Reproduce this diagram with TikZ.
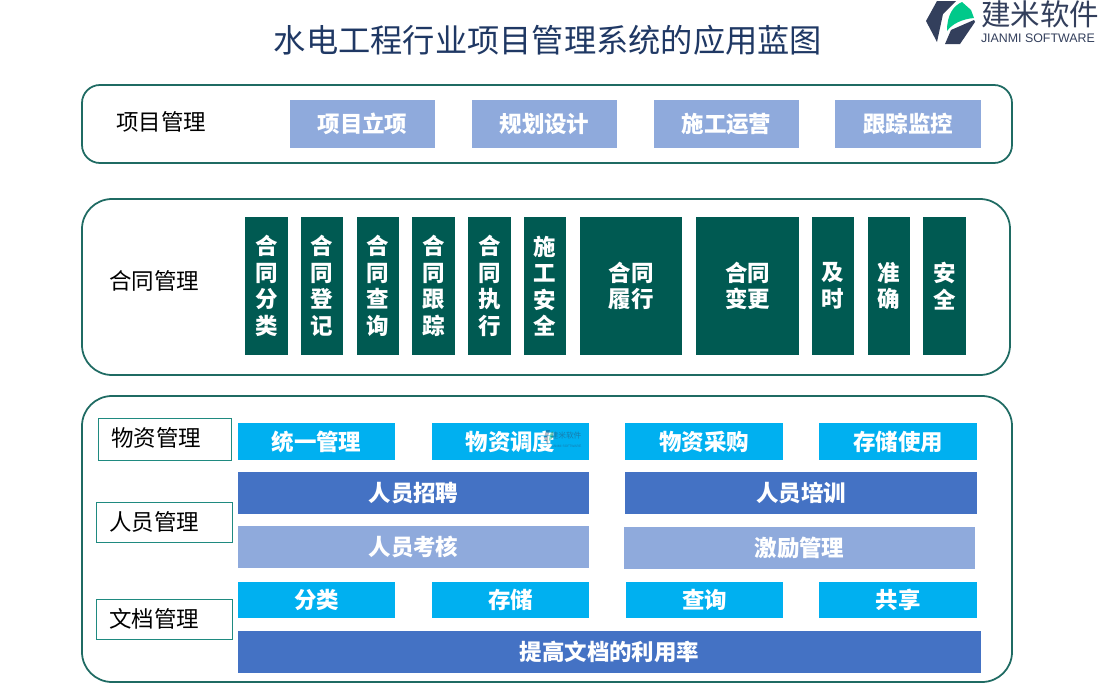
\documentclass[tikz,border=0pt]{standalone}
\usepackage{fontspec}
\setmainfont{Noto Sans CJK SC}
\newfontfamily\latinf{Liberation Sans}
\definecolor{panel}{HTML}{1F6B63}
\definecolor{outl}{HTML}{1F8A80}
\definecolor{dark}{HTML}{005A52}
\definecolor{lav}{HTML}{8FAADC}
\definecolor{sky}{HTML}{00B0F0}
\definecolor{blu}{HTML}{4472C4}
\definecolor{ttl}{HTML}{1F3864}
\definecolor{logod}{HTML}{333F5C}
\definecolor{logog}{HTML}{00C98A}
\newcommand\bx[7]{%
  \pgfmathsetmacro\bxw{(#4-#2)*0.02}\pgfmathsetmacro\bxh{(#5-#3)*0.02}%
  \node[#6,minimum width=\bxw cm,minimum height=\bxh cm] (#1) at ({(#2+#4)/2},{(#3+#5)/2}) {#7};}
\newcommand\pn[6]{%
  \pgfmathsetmacro\bxw{(#4-#2)*0.02}\pgfmathsetmacro\bxh{(#5-#3)*0.02}\pgfmathsetmacro\bxr{#6*0.02}%
  \node[panelbox,rounded corners=\bxr cm,minimum width=\bxw cm,minimum height=\bxh cm] (#1) at ({(#2+#4)/2},{(#3+#5)/2}) {};}
\tikzset{
  every node/.style={inner sep=0pt,outer sep=0pt},
  panelbox/.style={draw=panel,line width=1pt,fill=white},
  lbl/.style={font=\fontsize{12.8}{14}\selectfont,text=black},
  lblbox/.style={draw=outl,line width=0.55pt,fill=white},
  wt/.style={text=white,font=\bfseries\fontsize{12.8}{14}\selectfont},
  lavbox/.style={wt,fill=lav},
  skybox/.style={wt,fill=sky},
  blubox/.style={wt,fill=blu},
  darkbox/.style={wt,fill=dark,align=center,font=\bfseries\fontsize{12.8}{15.1}\selectfont},
}
\begin{document}
\begin{tikzpicture}[x=0.02cm,y=-0.02cm]
\useasboundingbox (0,0) rectangle (1100,700);
\fill[white] (0,0) rectangle (1100,700);
\node[text=ttl,font=\fontsize{18.35}{20}\selectfont] (title) at (548,40) {水电工程行业项目管理系统的应用蓝图};
% logo
\fill[logod] (937,1) -- (956,1) -- (943,14) -- (937,42) -- (926,21) -- cycle;
\fill[logod] (945,44) -- (951,30) -- (974,20) -- (975,22) -- (960,44) -- cycle;
\fill[logog] (947,31) .. controls (947,15) and (953,6) .. (962,2) -- (971,10) -- (974,18) .. controls (962,19) and (952,24) .. (947,31) -- cycle;
\node[text=logod,font=\fontsize{16.8}{18}\selectfont,anchor=west] (logot) at (981,14) {建米软件};
\node[text=logod,font=\latinf\fontsize{7.05}{8}\selectfont,anchor=west] (logos) at (981,38) {JIANMI SOFTWARE};
% panels
\pn{p1}{82}{85}{1012}{163}{18}
\pn{p2}{82}{199}{1010}{375}{30}
\pn{p3}{82}{396}{1012}{682}{30}
% project
\node[lbl] (l1) at (161,122) {项目管理};
\bx{a1}{290}{100}{435}{148}{lavbox}{项目立项}
\bx{a2}{472}{100}{617}{148}{lavbox}{规划设计}
\bx{a3}{654}{100}{799}{148}{lavbox}{施工运营}
\bx{a4}{835}{100}{981}{148}{lavbox}{跟踪监控}
% contract
\node[lbl] (l2) at (154,281) {合同管理};
\bx{b1}{245}{217}{288}{355}{darkbox}{合\\同\\分\\类}
\bx{b2}{301}{217}{343}{355}{darkbox}{合\\同\\登\\记}
\bx{b3}{357}{217}{399}{355}{darkbox}{合\\同\\查\\询}
\bx{b4}{412}{217}{455}{355}{darkbox}{合\\同\\跟\\踪}
\bx{b5}{468}{217}{511}{355}{darkbox}{合\\同\\执\\行}
\bx{b6}{524}{217}{566}{355}{darkbox}{施\\工\\安\\全}
\bx{b7}{580}{217}{682}{355}{darkbox}{合同\\履行}
\bx{b8}{696}{217}{799}{355}{darkbox}{合同\\变更}
\bx{b9}{812}{217}{854}{355}{darkbox}{及\\时}
\bx{b10}{868}{217}{910}{355}{darkbox}{准\\确}
\bx{b11}{923}{217}{966}{355}{darkbox}{安\\全}
% bottom labels
\bx{l3}{98}{418}{231}{460}{lblbox}{}
\bx{l4}{96}{502}{232}{542}{lblbox}{}
\bx{l5}{96}{599}{232}{639}{lblbox}{}
\node[lbl] (l3t) at (156,438) {物资管理};
\node[lbl] (l4t) at (154,522) {人员管理};
\node[lbl] (l5t) at (154,619) {文档管理};
\bx{c1}{238}{423}{395}{460}{skybox}{统一管理}
\bx{c2}{432}{423}{589}{460}{skybox}{物资调度}
\bx{c3}{625}{423}{783}{460}{skybox}{物资采购}
\bx{c4}{819}{423}{977}{460}{skybox}{存储使用}
\bx{d1}{238}{472}{589}{514}{blubox}{人员招聘}
\bx{d2}{625}{472}{977}{514}{blubox}{人员培训}
\bx{e1}{238}{526}{589}{568}{lavbox}{人员考核}
\bx{e2}{624}{527}{975}{569}{lavbox}{激励管理}
\bx{f1}{238}{582}{395}{618}{skybox}{分类}
\bx{f2}{432}{582}{589}{618}{skybox}{存储}
\bx{f3}{626}{582}{783}{618}{skybox}{查询}
\bx{f4}{819}{582}{977}{618}{skybox}{共享}
\bx{g1}{238}{631}{981}{673}{blubox}{提高文档的利用率}
% watermark
\fill[logod,opacity=.35] (546,430) -- (550,430) -- (548,436) -- (548,445) -- (544,438) -- cycle;
\fill[logog,opacity=.45] (549,441) .. controls (549,435) and (551,432) .. (553,431) -- (553,437) -- cycle;
\node[text=logod,opacity=.45,font=\fontsize{4.4}{5}\selectfont] (wm) at (566,436) {建米软件};
\node[text=logod,opacity=.45,font=\latinf\fontsize{1.9}{2}\selectfont] (wms) at (566,446) {JIANMI SOFTWARE};
\end{tikzpicture}
\end{document}
